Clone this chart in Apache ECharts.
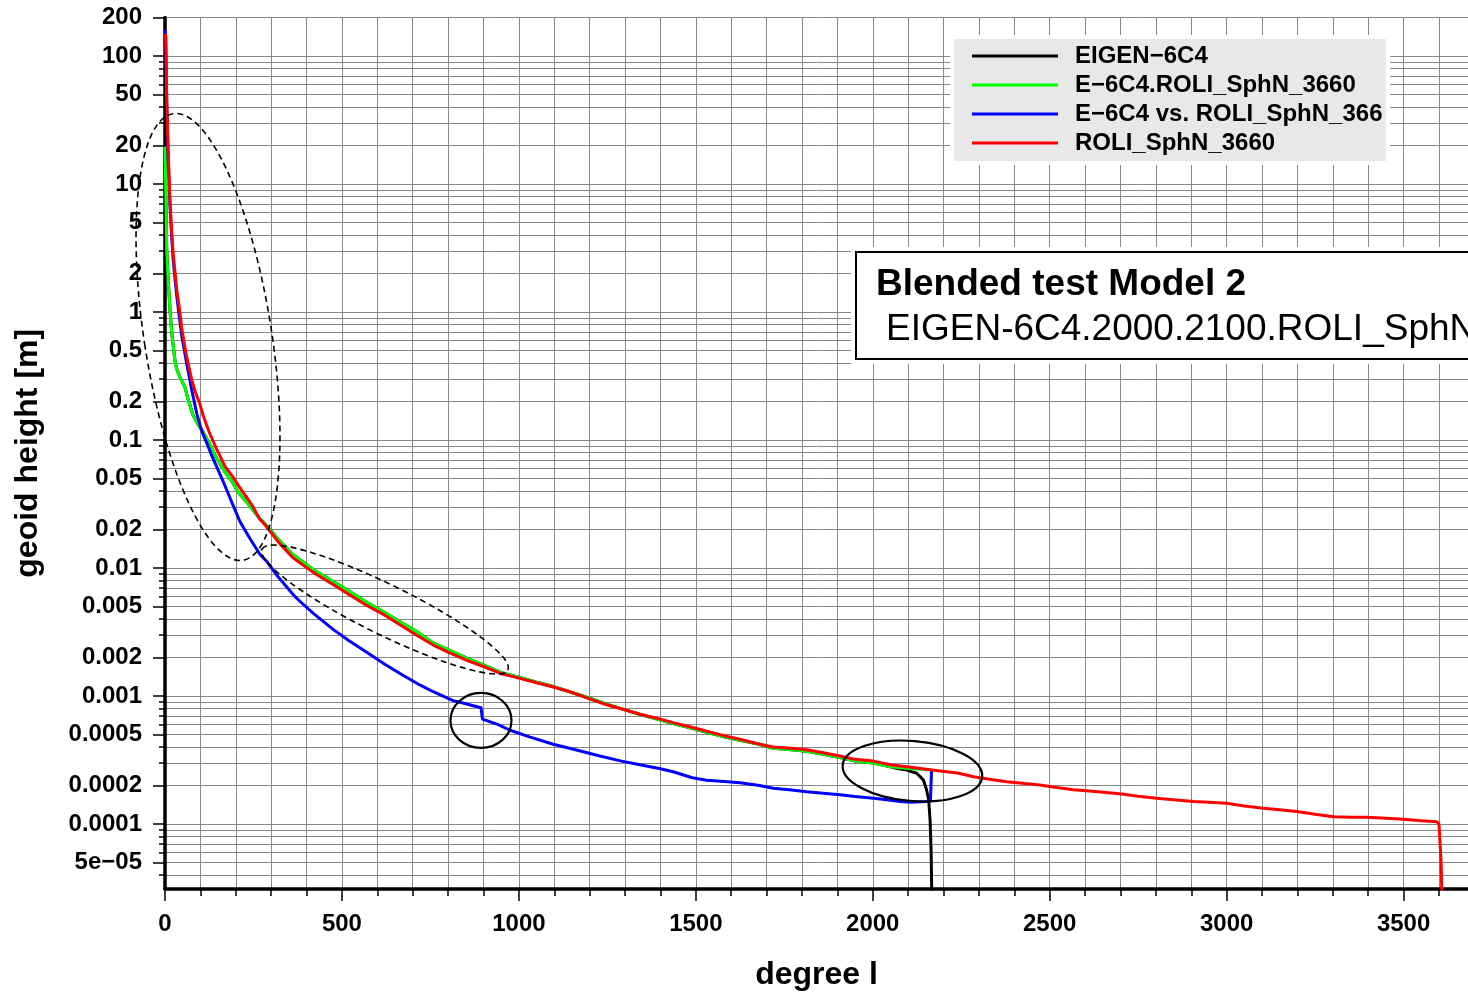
<!DOCTYPE html>
<html><head><meta charset="utf-8">
<script src="https://cdn.jsdelivr.net/npm/echarts@6/dist/echarts.min.js"></script>
<style>html,body{margin:0;padding:0;background:#fff}#c{width:1468px;height:992px}</style>
</head><body><div id="c"></div>
<script>
// ---------------- data (degree l, geoid height [m]) ----------------
const seriesNames = ['EIGEN−6C4', 'E−6C4.ROLI_SphN_3660', 'E−6C4 vs. ROLI_SphN_3660', 'ROLI_SphN_3660'];
const seriesColors = ['#000000', '#00ff00', '#0000ff', '#ff0000'];

const greenBlended = [[0,19.6],[3,6.5],[5,3.0],[8,2.0],[12,1.3],[15,0.95],[20,0.65],[28,0.42],[33,0.36],[42,0.31],[50,0.28],[56,0.26],[65,0.21],[75,0.17],[80,0.155],[95,0.13],[108,0.115],[125,0.095],[146,0.072],[170,0.056],[190,0.047],[207,0.039],[230,0.033],[250,0.028],[270,0.024],[287,0.0215],[320,0.0168],[362,0.0127],[381,0.0116],[420,0.0097],[476,0.0078],[520,0.0066],[570,0.0054],[620,0.0045],[664,0.0038],[710,0.0032],[758,0.0026],[800,0.0023],[853,0.00198],[900,0.00175],[948,0.00153],[1000,0.0014],[1050,0.00128],[1100,0.00118],[1135,0.0011],[1200,0.00096],[1250,0.00086],[1300,0.00078],[1342,0.00072],[1400,0.00065],[1436,0.00061],[1500,0.00055],[1531,0.00052],[1580,0.00048],[1625,0.00045],[1680,0.00042],[1719,0.00039],[1770,0.00038],[1813,0.00037],[1860,0.00035],[1907,0.00033],[1950,0.00031],[2002,0.0003],[2050,0.00028],[2096,0.000272],[2140,0.000268],[2165,0.000264]];

const blackEigen = [[0,19.6],[3,6.5],[5,3.0],[8,2.0],[12,1.3],[15,0.95],[20,0.65],[28,0.42],[33,0.36],[42,0.31],[50,0.28],[56,0.26],[65,0.21],[75,0.17],[80,0.155],[95,0.13],[108,0.115],[125,0.095],[146,0.072],[170,0.056],[190,0.047],[207,0.039],[230,0.033],[250,0.028],[270,0.024],[287,0.0215],[320,0.0168],[362,0.0127],[381,0.0116],[420,0.0097],[476,0.0078],[520,0.0066],[570,0.0054],[620,0.0045],[664,0.0038],[710,0.0032],[758,0.0026],[800,0.0023],[853,0.00198],[900,0.00175],[948,0.00153],[1000,0.0014],[1050,0.00128],[1100,0.00118],[1135,0.0011],[1200,0.00096],[1250,0.00086],[1300,0.00078],[1342,0.00072],[1400,0.00065],[1436,0.00061],[1500,0.00055],[1531,0.00052],[1580,0.00048],[1625,0.00045],[1680,0.00042],[1719,0.00039],[1770,0.00038],[1813,0.00037],[1860,0.00035],[1907,0.00033],[1950,0.00031],[2002,0.0003],[2050,0.00028],[2067,0.000272],[2096,0.000264],[2124,0.000249],[2143,0.000221],[2152,0.000185],[2158,0.000154],[2162,0.000107],[2165,0.00006],[2169,0.00001]];

const blueDifference = [[0,160],[2,140],[5,42],[9,16],[14,6.8],[19,3.8],[23,2.6],[28,1.85],[33,1.35],[42,0.85],[47,0.66],[61,0.4],[75,0.25],[90,0.16],[99,0.13],[108,0.11],[118,0.095],[130,0.078],[146,0.062],[165,0.047],[190,0.032],[212,0.023],[240,0.017],[268,0.0128],[287,0.0113],[320,0.0085],[362,0.0062],[381,0.0055],[420,0.0044],[476,0.0033],[520,0.0027],[570,0.0022],[620,0.00178],[664,0.0015],[720,0.00122],[758,0.00108],[814,0.00092],[850,0.00087],[893,0.00081],[897,0.00066],[940,0.0006],[975,0.00054],[1030,0.00048],[1097,0.00042],[1160,0.00038],[1229,0.00034],[1290,0.00031],[1342,0.00029],[1400,0.00027],[1436,0.000256],[1490,0.00023],[1531,0.00022],[1580,0.000215],[1625,0.00021],[1680,0.0002],[1719,0.00019],[1770,0.000184],[1813,0.000179],[1860,0.000174],[1907,0.000169],[1950,0.000164],[2002,0.000159],[2040,0.000155],[2077,0.00015],[2110,0.000148],[2150,0.00015],[2163,0.000152],[2166,0.00026]];

const redRoli = [[1,150],[2,140],[5,45],[9,18],[14,7.5],[19,4.2],[23,2.9],[28,2.1],[33,1.5],[42,1.0],[47,0.75],[61,0.45],[75,0.3],[85,0.24],[99,0.19],[108,0.155],[125,0.115],[146,0.085],[170,0.062],[193,0.051],[210,0.043],[230,0.036],[249,0.03],[268,0.024],[287,0.021],[320,0.016],[362,0.012],[381,0.011],[420,0.0092],[476,0.0074],[520,0.0062],[570,0.0051],[620,0.0043],[664,0.0036],[710,0.003],[758,0.0025],[800,0.0022],[853,0.0019],[900,0.0017],[948,0.0015],[1000,0.00138],[1050,0.00127],[1100,0.00117],[1135,0.0011],[1200,0.00095],[1250,0.00085],[1300,0.00078],[1342,0.00072],[1400,0.00066],[1436,0.00062],[1500,0.00056],[1531,0.00053],[1580,0.00049],[1625,0.00046],[1680,0.00042],[1719,0.0004],[1770,0.00039],[1813,0.00038],[1860,0.00036],[1907,0.00034],[1950,0.00032],[2002,0.00031],[2050,0.00029],[2096,0.00028],[2140,0.00027],[2190,0.00026],[2240,0.00025],[2285,0.000234],[2330,0.000224],[2378,0.000214],[2430,0.000207],[2472,0.000202],[2520,0.000193],[2567,0.000185],[2620,0.00018],[2698,0.000172],[2750,0.000165],[2802,0.000159],[2850,0.000155],[2906,0.00015],[2950,0.000148],[3000,0.000145],[3050,0.000138],[3104,0.000133],[3150,0.000129],[3198,0.000125],[3250,0.000119],[3302,0.000114],[3350,0.000113],[3396,0.000113],[3450,0.000111],[3500,0.000109],[3550,0.000106],[3594,0.000104],[3600,0.0001],[3606,0.00005],[3612,0.00001]];

const seriesData = [blackEigen, greenBlended, blueDifference, redRoli];

// tick labels
const yLabelValues = [200,100,50,20,10,5,2,1,0.5,0.2,0.1,0.05,0.02,0.01,0.005,0.002,0.001,0.0005,0.0002,0.0001,0.00005];
const yLabelTexts = ['200','100','50','20','10','5','2','1','0.5','0.2','0.1','0.05','0.02','0.01','0.005','0.002','0.001','0.0005','0.0002','0.0001','5e−05'];
const yMantissas = [1,2,3,4,5,6,7,8,9];
const yDecades = [-5,-4,-3,-2,-1,0,1,2];
const xLabelValues = [0,500,1000,1500,2000,2500,3000,3500];
const xMinorStep = 100;
const yRange = [3.106e-5, 200];
const xRange = [0, 3682];

// annotations
const boxTitle = 'Blended test Model 2';
const boxSubtitle = 'EIGEN-6C4.2000.2100.ROLI_SphN_3660';
const ellipseCenters = [[121.5, 0.638], [621.6, 0.00474], [892.9, 0.000644], [2112, 0.0002594]];

// ---------------- build ----------------
const FONT = "'Liberation Sans', Arial, Helvetica, sans-serif";
const lg = v => Math.log10(v);
const yMin = lg(yRange[0]), yMax = lg(yRange[1]);
const yGridLog = [];
yDecades.forEach(d => yMantissas.forEach(m => {
  const v = lg(m) + d;
  if (v >= yMin - 1e-9 && v <= yMax + 1e-9) yGridLog.push(v);
}));
const yLabelLog = yLabelValues.map(lg);
const xMinor = [];
for (let v = xRange[0]; v <= xRange[1]; v += xMinorStep) xMinor.push(v);

const tickLine = {color: '#000', width: 1.5};
const gridLine = {color: '#888888', width: 1};

const chart = echarts.init(document.getElementById('c'), null, {renderer: 'canvas'});
const option = {
  animation: false,
  backgroundColor: '#fff',
  grid: {left: 165, right: 0, top: 17.5, bottom: 103, containLabel: false, outerBoundsMode: 'none'},
  legend: {
    orient: 'vertical', left: 952, top: 37,
    padding: [7, 0, 8, 20], itemGap: 5, itemWidth: 86, itemHeight: 3, icon: 'rect',
    backgroundColor: '#e8e8e8', borderColor: '#ffffff', borderWidth: 4,
    textStyle: {fontFamily: FONT, fontWeight: 'bold', fontSize: 24, lineHeight: 24, color: '#000',
      width: 313, overflow: 'truncate', ellipsis: '', padding: [0, 0, 0, 12]},
    data: seriesNames
  },
  xAxis: [
    {type: 'value', min: xRange[0], max: xRange[1], position: 'bottom',
      axisLine: {show: true, onZero: false, lineStyle: {color: '#000', width: 3.5}},
      axisTick: {show: true, customValues: xMinor, length: 7, lineStyle: tickLine},
      axisLabel: {show: false},
      splitLine: {show: true, lineStyle: gridLine}},
    {type: 'value', min: xRange[0], max: xRange[1], position: 'bottom',
      axisLine: {show: false, onZero: false},
      axisTick: {show: true, customValues: xLabelValues, length: 12, lineStyle: tickLine},
      axisLabel: {show: true, customValues: xLabelValues, margin: 23, fontFamily: FONT, fontWeight: 'bold', fontSize: 24, color: '#000',
        formatter: v => String(Math.round(v))},
      splitLine: {show: false},
      name: 'degree l', nameLocation: 'middle', nameGap: 70,
      nameTextStyle: {fontFamily: FONT, fontWeight: 'bold', fontSize: 32, color: '#000'}}
  ],
  yAxis: [
    {type: 'value', min: yMin, max: yMax, position: 'left',
      axisLine: {show: true, onZero: false, lineStyle: {color: '#000', width: 3.5}},
      axisTick: {show: true, customValues: yGridLog, length: 6, lineStyle: tickLine},
      axisLabel: {show: false},
      splitLine: {show: true, lineStyle: gridLine}},
    {type: 'value', min: yMin, max: yMax, position: 'left',
      axisLine: {show: false, onZero: false},
      axisTick: {show: true, customValues: yLabelLog, length: 12, lineStyle: tickLine},
      axisLabel: {show: true, customValues: yLabelLog, margin: 23, fontFamily: FONT, fontWeight: 'bold', fontSize: 24, color: '#000',
        formatter: v => { const i = yLabelLog.findIndex(t => Math.abs(t - v) < 1e-6); return i >= 0 ? yLabelTexts[i] : ''; }},
      splitLine: {show: false},
      name: 'geoid height [m]', nameLocation: 'middle', nameGap: 121, nameRotate: 90,
      nameTextStyle: {fontFamily: FONT, fontWeight: 'bold', fontSize: 32, color: '#000', padding: [0, 0, 0, 0]}}
  ],
  series: seriesNames.map((name, i) => ({
    name, type: 'line', xAxisIndex: 0, yAxisIndex: 0,
    data: seriesData[i].map(p => [p[0], lg(p[1])]),
    showSymbol: false, symbol: 'none', clip: true,
    color: seriesColors[i],
    lineStyle: {color: seriesColors[i], width: 3},
    itemStyle: {color: seriesColors[i]},
    z: 3 + i
  }))
};
chart.setOption(option);

// annotation graphics (ellipses anchored to data coordinates)
const ellipseSpec = [
  {rx: 63.7, ry: 226, rot: 0.155, dash: true},
  {rx: 137, ry: 25, rot: -0.457, dash: true},
  {rx: 30.5, ry: 27.5, rot: 0, dash: false},
  {rx: 70, ry: 30, rot: -0.084, dash: false}
];
const ellipses = ellipseCenters.map((c, i) => {
  const p = chart.convertToPixel({xAxisIndex: 0, yAxisIndex: 0}, [c[0], lg(c[1])]);
  const s = ellipseSpec[i];
  return {
    type: 'ellipse', x: p[0], y: p[1], rotation: s.rot, z: 50, silent: true,
    shape: {cx: 0, cy: 0, rx: s.rx, ry: s.ry},
    style: {fill: 'none', stroke: '#000', lineWidth: s.dash ? 1.6 : 2.2, lineDash: s.dash ? [6, 4] : null}
  };
});
const box = [
  {type: 'rect', z: 60, silent: true, shape: {x: 851, y: 247, width: 700, height: 117}, style: {fill: '#fff'}},
  {type: 'rect', z: 61, silent: true, shape: {x: 856, y: 252, width: 700, height: 107}, style: {fill: '#fff', stroke: '#000', lineWidth: 2}},
  {type: 'text', z: 62, silent: true, x: 876, y: 285, style: {text: boxTitle, font: 'bold 37px ' + FONT, fill: '#000', verticalAlign: 'middle'}},
  {type: 'text', z: 62, silent: true, x: 886, y: 330, style: {text: boxSubtitle, font: '37px ' + FONT, fill: '#000', verticalAlign: 'middle'}}
];
chart.setOption({graphic: {elements: ellipses.concat(box)}});
</script></body></html>
